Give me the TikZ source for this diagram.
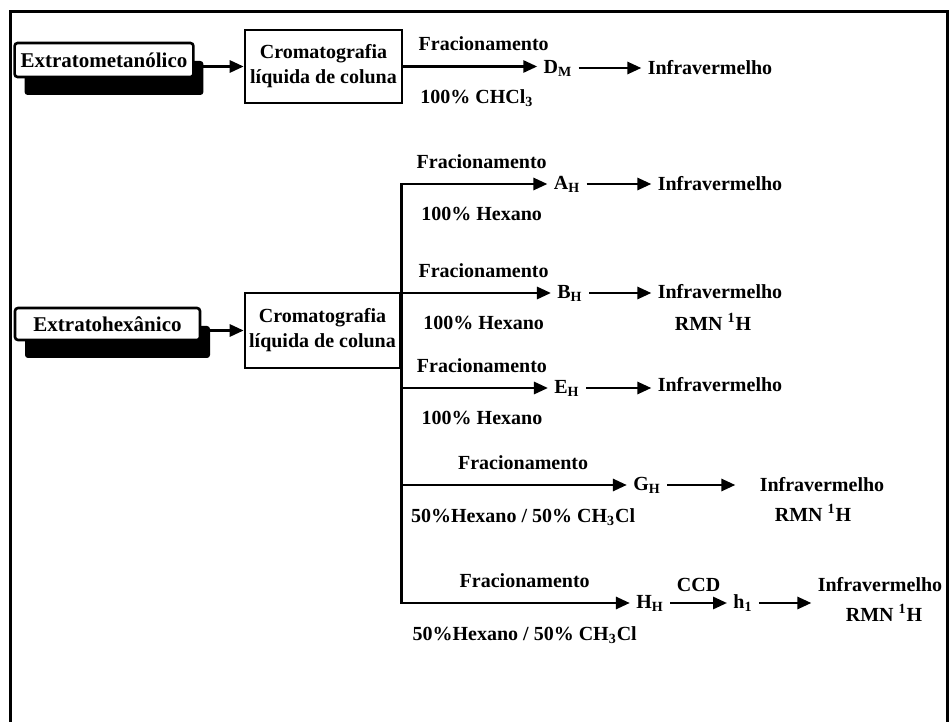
\documentclass[tikz,border=0pt]{standalone}
\usepackage{fontspec}
\setmainfont{Liberation Serif}
\usetikzlibrary{arrows.meta,shadows}

\begin{document}
\begin{tikzpicture}[
    x=0.5pt, y=-0.5pt,
    every node/.style={font=\fontsize{10}{12.5}\selectfont\bfseries, inner sep=3pt},
    extrato/.style={rectangle, draw, rounded corners=1.5pt, line width=1.3pt, fill=white,
        font=\fontsize{10.5}{12.5}\selectfont\bfseries,
        drop shadow={shadow xshift=5pt, shadow yshift=-9pt, opacity=1, fill=black}},
    coluna/.style={rectangle, draw, line width=1.3pt, align=center, inner xsep=2pt},
    seta/.style={-{Triangle[length=7pt,width=6pt]}, line width=1.4pt},
    acima/.style={above=4pt},
    abaixo/.style={below=8pt}
]
\useasboundingbox (0,0) rectangle (950,722);

% Frame
\draw[line width=1.5pt] (10,722) -- (10,12) -- (947,12) -- (947,722);

% Top row: methanolic extract
\node[extrato, minimum width=89pt, minimum height=17pt] (ext1) at (104,60) {Extratometanólico};
\node[coluna, minimum width=78.5pt, minimum height=36.5pt] (crom1) at (323.5,66.5) {Cromatografia\\líquida de coluna};
\node (dm) at (558,68) {D\textsubscript{M}};
\node (ir1) at (710,68) {Infravermelho};

\draw[seta] (ext1.east |- crom1.west) -- (crom1.west);
\draw[seta] (crom1.east) -- node[acima, pos=0.6]{Fracionamento} node[abaixo, pos=0.55]{100\% CHCl\textsubscript{3}} (crom1.east -| dm.west);
\draw[seta] (dm.east) -- (dm.east -| ir1.west);

% Bottom part: hexanic extract
\node[extrato, minimum width=92.5pt, minimum height=16pt] (ext2) at (107.5,324) {Extratohexânico};
\node[coluna, minimum width=77.5pt, minimum height=37.5pt] (crom2) at (322.5,330.5) {Cromatografia\\líquida de coluna};
\draw[seta] (ext2.east |- crom2.west) -- (crom2.west);

% Fractions
\node (aH) at (567,184) {A\textsubscript{H}};
\node (bH) at (570,293) {B\textsubscript{H}};
\node (eH) at (567,388) {E\textsubscript{H}};
\node (gH) at (647,485) {G\textsubscript{H}};
\node (hH) at (650,603) {H\textsubscript{H}};
\node (h1) at (743,603) {h\textsubscript{1}};

% Analyses
\node (irA) at (720,184) {Infravermelho};
\node (irB) at (720,292) {Infravermelho};
\node (rmnB) at (713,322) {RMN \textsuperscript{1}H};
\node (irE) at (720,385) {Infravermelho};
\node (irG) at (822,485) {Infravermelho};
\node (rmnG) at (813,513) {RMN \textsuperscript{1}H};
\node (irH) at (880,585) {Infravermelho};
\node (rmnH) at (884,613) {RMN \textsuperscript{1}H};

% Branches from the column
\draw[seta] (crom2.east |- hH) -- (crom2.east |- aH) -- node[acima, pos=0.55]{Fracionamento} node[abaixo, pos=0.55]{100\% Hexano} (aH.west);
\draw[seta] (crom2.east |- bH) -- node[acima, pos=0.55]{Fracionamento} node[abaixo, pos=0.55]{100\% Hexano} (bH.west);
\draw[seta] (crom2.east |- eH) -- node[acima, pos=0.55]{Fracionamento} node[abaixo, pos=0.55]{100\% Hexano} (eH.west);
\draw[seta] (crom2.east |- gH) -- node[acima, pos=0.54]{Fracionamento} node[abaixo, pos=0.54]{50\%Hexano / 50\% CH\textsubscript{3}Cl} (gH.west);
\draw[seta] (crom2.east |- gH) -- (crom2.east |- hH) -- node[acima, pos=0.54]{Fracionamento} node[abaixo, pos=0.54]{50\%Hexano / 50\% CH\textsubscript{3}Cl} (hH.west);

% Fractions to analyses
\draw[seta] (aH.east) -- (aH.east -| irA.west);
\draw[seta] (bH.east) -- (bH.east -| irB.west);
\draw[seta] (eH.east) -- (eH.east -| irE.west);
\draw[seta, shorten >=9pt] (gH.east) -- (gH.east -| irG.west);
\draw[seta] (hH.east) -- node[above=2pt]{CCD} (hH.east -| h1.west);
\draw[seta] (h1.east) -- (h1.east -| irH.west);

\end{tikzpicture}
\end{document}
